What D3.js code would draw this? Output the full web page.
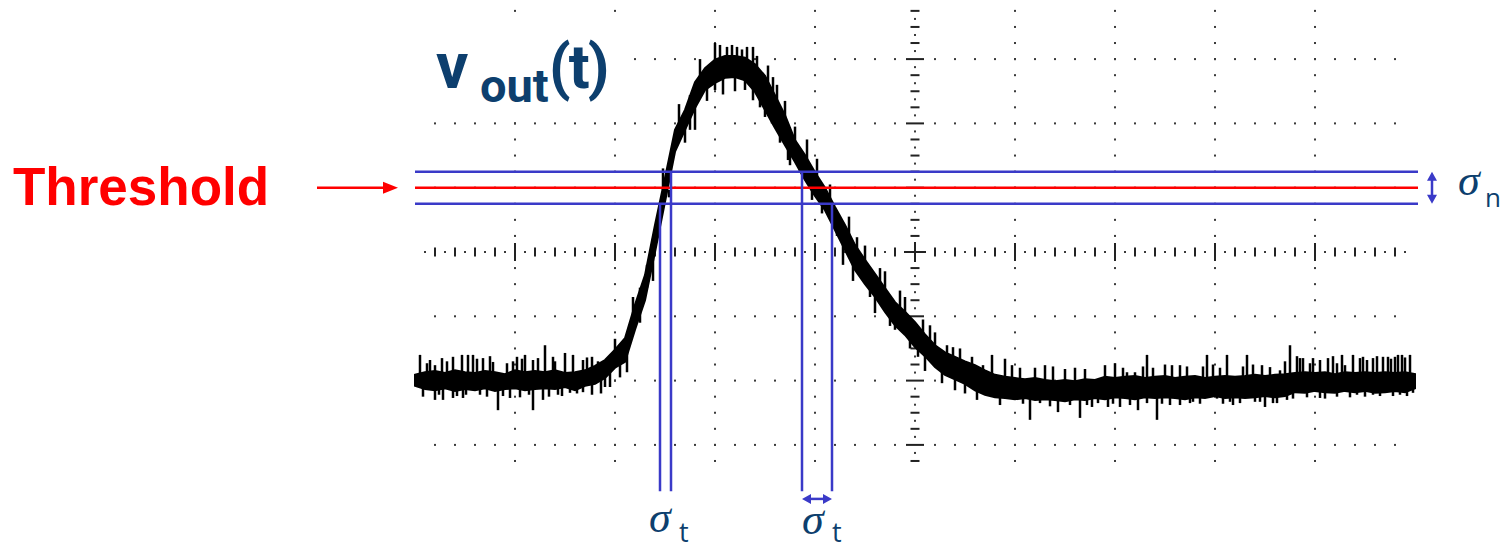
<!DOCTYPE html>
<meta charset="utf-8">
<style>
body { margin: 0; background: #fff; }
svg { display: block; }
</style>
<svg width="1501" height="551"></svg>
<script src="https://cdn.jsdelivr.net/npm/d3@7/dist/d3.min.js"></script>
<script>

// scope trace in divisions (time: -5..5, volts: -4..4)
// envelope of the noisy trace, one sample every 0.1 div
var envHi = [
  -1.91,-1.87,-1.85,-1.88,-1.84,-1.87,-1.88,-1.85,-1.87,-1.90,
  -1.84,-1.87,-1.85,-1.87,-1.84,-1.88,-1.87,-1.84,-1.77,-1.68,
  -1.52,-1.34,-0.82,-0.36, 0.42, 1.15, 1.90, 2.21, 2.64, 2.86,
   2.99, 3.05, 3.05, 3.02, 2.92, 2.74, 2.44, 2.13, 1.74, 1.51,
   1.24, 1.00, 0.70, 0.42, 0.11,-0.12,-0.34,-0.56,-0.78,-0.93,
  -1.09,-1.28,-1.45,-1.56,-1.63,-1.70,-1.76,-1.84,-1.91,-1.94,
  -1.96,-1.98,-1.96,-1.99,-2.01,-1.99,-2.01,-1.98,-1.99,-1.94,
  -1.96,-1.94,-1.93,-1.96,-1.94,-1.93,-1.96,-1.94,-1.93,-1.96,
  -1.94,-1.93,-1.94,-1.93,-1.91,-1.93,-1.91,-1.90,-1.88,-1.87,
  -1.88,-1.87,-1.90,-1.87,-1.88,-1.87,-1.88,-1.87,-1.88,-1.87,
  -1.90];
var envLo = [
  -2.08,-2.13,-2.15,-2.12,-2.16,-2.13,-2.15,-2.12,-2.16,-2.13,
  -2.12,-2.15,-2.13,-2.12,-2.13,-2.10,-2.15,-2.08,-2.05,-1.96,
  -1.80,-1.71,-1.21,-0.75, 0.00, 0.78, 1.56, 1.90, 2.24, 2.52,
   2.63, 2.71, 2.72, 2.67, 2.49, 2.21, 1.93, 1.66, 1.40, 1.12,
   0.87, 0.65, 0.34, 0.03,-0.28,-0.50,-0.70,-0.93,-1.14,-1.29,
  -1.48,-1.62,-1.79,-1.91,-1.98,-2.05,-2.15,-2.22,-2.26,-2.27,
  -2.29,-2.27,-2.30,-2.29,-2.30,-2.32,-2.29,-2.30,-2.27,-2.29,
  -2.26,-2.27,-2.29,-2.26,-2.27,-2.26,-2.27,-2.29,-2.26,-2.27,
  -2.24,-2.27,-2.26,-2.27,-2.26,-2.24,-2.26,-2.24,-2.18,-2.19,
  -2.16,-2.18,-2.19,-2.16,-2.18,-2.16,-2.19,-2.18,-2.16,-2.18,
  -2.12];

// noise spikes [time, level]
var spikesLeft = [
  [-4.95,-1.60],[-4.92,-2.25],[-4.88,-1.73],[-4.85,-1.68],[-4.80,-1.76],[-4.80,-2.30],
  [-4.76,-2.22],[-4.73,-1.65],[-4.72,-2.30],[-4.68,-1.70],[-4.62,-1.63],[-4.62,-2.27],
  [-4.58,-2.24],[-4.53,-1.60],[-4.52,-2.27],[-4.49,-2.22],[-4.47,-1.60],[-4.42,-1.60],
  [-4.38,-1.66],[-4.35,-2.22],[-4.32,-1.65],[-4.28,-2.25],[-4.25,-1.62],[-4.22,-1.71],
  [-4.17,-2.46],[-4.12,-2.24],[-4.08,-1.73],[-4.05,-2.27],[-4.02,-1.70],[-3.98,-1.63],
  [-3.95,-2.26],[-3.93,-1.66],[-3.90,-1.60],[-3.86,-2.22],[-3.82,-1.68],[-3.82,-2.46],
  [-3.77,-1.65],[-3.72,-2.30],[-3.70,-1.45],[-3.66,-2.25],[-3.62,-1.63],[-3.60,-1.70],
  [-3.57,-2.22],[-3.53,-2.24],[-3.50,-1.57],[-3.45,-2.19],[-3.42,-1.60],[-3.38,-2.20],
  [-3.32,-1.68],[-3.32,-2.18],[-3.28,-1.64],[-3.23,-1.63],[-3.23,-2.22],[-3.17,-1.70],
  [-3.14,-2.20],[-3.05,-2.10]];
var spikesPulse = [
  [-3.10,-2.10],[-3.00,-1.35],[-2.95,-1.95],[-2.88,-1.87],[-2.82,-0.70],[-2.75,-1.10],
  [-2.68,-0.20],[-2.62,-0.45],[-2.52, 1.30],[-2.46, 0.85],[-2.36, 2.30],[-2.30, 1.70],
  [-2.25, 1.90],[-2.20, 1.90],[-2.15, 3.00],[-2.08, 2.35],[-2.00, 3.25],[-2.00, 2.52],
  [-1.95, 3.22],[-1.92, 2.45],[-1.88, 3.19],[-1.83, 3.22],[-1.80, 2.50],[-1.78, 3.19],
  [-1.73, 3.15],[-1.70, 2.52],[-1.68, 3.19],[-1.62, 3.19],[-1.62, 2.36],[-1.58, 3.05],
  [-1.55, 2.25],[-1.50, 2.10],[-1.47, 2.90],[-1.43, 2.00],[-1.42, 2.72],[-1.38, 2.60],
  [-1.35, 1.70],[-1.33, 1.74],[-1.30, 2.35],[-1.27, 1.43],[-1.25, 1.35],[-1.20, 1.95],
  [-1.15, 1.25],[-1.08, 1.75],[-1.03, 0.81],[-0.98, 1.45],[-0.93, 0.60],[-0.85, 1.05],
  [-0.78, 0.25],[-0.72,-0.20],[-0.66, 0.55],[-0.62,-0.45],[-0.58, 0.23],[-0.50, 0.10],
  [-0.45,-0.70],[-0.40,-0.95],[-0.35,-0.25],[-0.30,-0.30],[-0.25,-1.15],[-0.20,-1.21],
  [-0.15,-0.60],[-0.10,-0.70],[-0.05,-1.50],[ 0.03,-1.63],[ 0.08,-1.05],[ 0.10,-1.85],
  [ 0.15,-1.14],[ 0.20,-1.25],[ 0.27,-2.04],[ 0.40,-2.15],[ 0.45,-1.50],[ 0.50,-2.20]];
var spikesRight = [
  [0.32,-1.45],[0.38,-1.48],[0.57,-1.63],[0.62,-2.30],[0.68,-1.76],[0.77,-1.60],
  [0.85,-2.38],[0.90,-1.66],[0.97,-1.76],[1.05,-1.80],[1.08,-2.36],[1.15,-2.61],
  [1.20,-1.80],[1.25,-2.35],[1.30,-1.76],[1.35,-2.40],[1.38,-1.78],[1.43,-2.49],
  [1.50,-1.82],[1.55,-2.38],[1.60,-1.80],[1.65,-2.58],[1.70,-1.82],[1.72,-2.38],
  [1.77,-2.41],[1.83,-2.35],[1.90,-1.76],[1.93,-2.41],[1.98,-2.36],[2.00,-1.73],
  [2.05,-2.41],[2.08,-1.80],[2.12,-1.87],[2.15,-2.38],[2.20,-1.87],[2.23,-2.46],
  [2.28,-1.78],[2.32,-1.60],[2.32,-2.35],[2.38,-1.80],[2.42,-2.61],[2.47,-2.36],
  [2.50,-1.75],[2.55,-2.38],[2.57,-1.76],[2.65,-1.76],[2.65,-2.38],[2.72,-1.78],
  [2.75,-2.35],[2.78,-2.33],[2.85,-2.36],[2.88,-1.78],[2.92,-1.60],[2.98,-1.75],
  [3.02,-2.28],[3.05,-1.80],[3.08,-2.36],[3.12,-1.60],[3.15,-2.33],[3.18,-2.38],
  [3.25,-2.35],[3.28,-1.78],[3.32,-1.60],[3.38,-1.75],[3.40,-2.33],[3.45,-2.33],
  [3.47,-1.76],[3.50,-2.41],[3.55,-1.79],[3.58,-2.35],[3.62,-2.35],[3.65,-1.84],
  [3.70,-1.70],[3.72,-2.30],[3.75,-1.45],[3.78,-2.28],[3.82,-1.62],[3.85,-1.65],
  [3.88,-1.65],[3.92,-2.26],[3.95,-1.73],[3.98,-1.65],[4.05,-2.27],[4.05,-1.68],
  [4.10,-2.28],[4.13,-1.65],[4.18,-1.62],[4.22,-1.73],[4.22,-2.25],[4.27,-1.60],
  [4.30,-1.76],[4.35,-2.26],[4.38,-1.60],[4.42,-2.22],[4.45,-1.65],[4.48,-1.63],
  [4.50,-2.25],[4.52,-1.68],[4.58,-1.65],[4.58,-2.22],[4.62,-1.62],[4.65,-2.24],
  [4.68,-1.63],[4.73,-1.63],[4.76,-1.66],[4.78,-2.24],[4.80,-1.63],[4.83,-1.60],
  [4.85,-2.22],[4.87,-1.60],[4.90,-1.64],[4.92,-2.24],[4.95,-1.60],[4.98,-2.19]];

// threshold and its noise band
var threshold = 1.0;
var sigmaN = 0.25;
// where the trace crosses the band edges [time, level]
var crossings = [[-2.55, 0.75], [-2.44, 1.25], [-1.13, 1.25], [-0.83, 0.75]];
var markerBottom = -3.72;

var svg = d3.select("svg");
var x = d3.scaleLinear().domain([-5, 5]).range([415, 1415]);
var y = d3.scaleLinear().domain([-4, 4]).range([509.2, -5.2]);

var navy = "#0d3f6e", blue = "#3a3ac8", red = "#ff0000";

svg.append("defs").append("clipPath").attr("id", "screen")
  .append("rect").attr("x", 405).attr("y", 4).attr("width", 1020).attr("height", 464);

var grid = svg.append("g").attr("clip-path", "url(#screen)");

function dot(t, v) {
  grid.append("rect").attr("x", x(t) - 1).attr("y", y(v) - 1)
    .attr("width", 2).attr("height", 2).attr("fill", "#3a3a3a");
}
function hdash(t, v, w) {
  grid.append("rect").attr("x", x(t) - w / 2).attr("y", y(v) - 1)
    .attr("width", w).attr("height", 2).attr("fill", "#222");
}
function vdash(t, v, h) {
  grid.append("rect").attr("x", x(t) - 1).attr("y", y(v) - h / 2)
    .attr("width", 2).attr("height", h).attr("fill", "#222");
}

// dotted rows and columns
[-3, -2, -1, 1, 2, 3].forEach(function(v) {
  d3.range(-24, 25).forEach(function(k) { if (k != 0) dot(k / 5, v); });
});
[-4, -3, -2, -1, 1, 2, 3, 4].forEach(function(t) {
  d3.range(-15, 16).forEach(function(k) { if (k != 0) dot(t, k / 4); });
});
// centre axes with ticks
d3.range(-15, 16).forEach(function(k) {
  if (k == 0) return;
  hdash(0, k / 4, k % 4 == 0 ? 18 : 9);
});
d3.range(-16, 16).forEach(function(k) { dot(0, (2 * k + 1) / 8); });
d3.range(-24, 25).forEach(function(k) {
  if (k == 0) return;
  vdash(k / 5, 0, k % 5 == 0 ? 18 : 9);
});
d3.range(-25, 25).forEach(function(k) { dot((2 * k + 1) / 10, 0); });
hdash(0, 0, 22);
vdash(0, 0, 20);

// white box behind the title
svg.append("rect").attr("x", 400).attr("y", 14).attr("width", 232).attr("height", 98).attr("fill", "#fff");

// trace
var times = envHi.map(function(d, i) { return -5 + i / 10; });
var band = d3.area()
  .x(function(d, i) { return x(times[i]); })
  .y0(function(d, i) { return y(envLo[i]); })
  .y1(function(d, i) { return y(envHi[i]); });
svg.append("path").datum(envHi).attr("d", band).attr("fill", "#000")
  .attr("stroke", "#000").attr("stroke-width", 2);

var spikes = spikesLeft.concat(spikesPulse, spikesRight);
svg.append("g").selectAll("line").data(spikes).enter().append("line")
  .attr("x1", function(d) { return x(d[0]); })
  .attr("x2", function(d) { return x(d[0]); })
  .attr("y1", function(d) {
    var i = Math.round((d[0] + 5) * 10);
    return y((envHi[i] + envLo[i]) / 2);
  })
  .attr("y2", function(d) { return y(d[1]); })
  .attr("stroke", "#000").attr("stroke-width", 2.5);

// threshold lines
svg.append("line").attr("x1", x(-5)).attr("x2", x(5.03))
  .attr("y1", y(threshold + sigmaN)).attr("y2", y(threshold + sigmaN))
  .attr("stroke", blue).attr("stroke-width", 2.5);
svg.append("line").attr("x1", x(-5)).attr("x2", x(5.03))
  .attr("y1", y(threshold - sigmaN)).attr("y2", y(threshold - sigmaN))
  .attr("stroke", blue).attr("stroke-width", 2.5);
svg.append("line").attr("x1", x(-5)).attr("x2", x(5.03))
  .attr("y1", y(threshold)).attr("y2", y(threshold))
  .attr("stroke", red).attr("stroke-width", 2.5);

svg.append("g").selectAll("line").data(crossings).enter().append("line")
  .attr("x1", function(d) { return x(d[0]); })
  .attr("x2", function(d) { return x(d[0]); })
  .attr("y1", function(d) { return y(d[1]); })
  .attr("y2", y(markerBottom))
  .attr("stroke", blue).attr("stroke-width", 2.5);

// arrows
function doubleArrowH(x1, x2, yy, col) {
  svg.append("line").attr("x1", x1 + 6).attr("x2", x2 - 6).attr("y1", yy).attr("y2", yy)
    .attr("stroke", col).attr("stroke-width", 2.5);
  svg.append("path").attr("fill", col)
    .attr("d", "M" + x1 + "," + yy + "l9,-5v10z M" + x2 + "," + yy + "l-9,-5v10z");
}
function doubleArrowV(xx, y1, y2, col) {
  svg.append("line").attr("x1", xx).attr("x2", xx).attr("y1", y1 + 6).attr("y2", y2 - 6)
    .attr("stroke", col).attr("stroke-width", 2.5);
  svg.append("path").attr("fill", col)
    .attr("d", "M" + xx + "," + y1 + "l-5,9h10z M" + xx + "," + y2 + "l-5,-9h10z");
}
doubleArrowH(x(crossings[2][0]), x(crossings[3][0]), y(-3.84), blue);
doubleArrowV(1432, y(threshold + sigmaN), y(threshold - sigmaN), blue);

svg.append("line").attr("x1", 317).attr("x2", 386).attr("y1", y(threshold)).attr("y2", y(threshold))
  .attr("stroke", red).attr("stroke-width", 2.5);
svg.append("path").attr("fill", red)
  .attr("d", "M398," + y(threshold) + "l-15,-6v12z");

// labels
svg.append("text").attr("x", 13).attr("y", 205)
  .attr("font-family", "Liberation Sans, Arial, sans-serif").attr("font-weight", "bold")
  .attr("font-size", 53).attr("fill", red).text("Threshold");

var title = svg.append("text").attr("y", 88)
  .attr("font-family", "Roboto, sans-serif").attr("font-weight", 700).attr("fill", navy);
title.append("tspan").attr("x", 436).attr("font-size", 64).text("v");
title.append("tspan").attr("x", 480).attr("dy", 14).attr("font-size", 47).text("out");
title.append("tspan").attr("x", 549).attr("dy", -14).attr("font-size", 62)
  .attr("letter-spacing", -2).text("(t)");

function sigma(px, py, sub, sx, sy, fs) {
  svg.append("text").attr("x", px).attr("y", py).attr("fill", navy)
    .attr("font-family", "Liberation Serif, serif").attr("font-style", "italic")
    .attr("font-size", 44).text("σ");
  svg.append("text").attr("x", sx).attr("y", sy).attr("fill", navy)
    .attr("font-family", "Open Sans, sans-serif").attr("font-size", fs).text(sub);
}
sigma(649, 532, "t", 679, 542, 27);
sigma(802, 534, "t", 832, 542, 27);
sigma(1458, 195, "n", 1485, 207, 26);

</script>
